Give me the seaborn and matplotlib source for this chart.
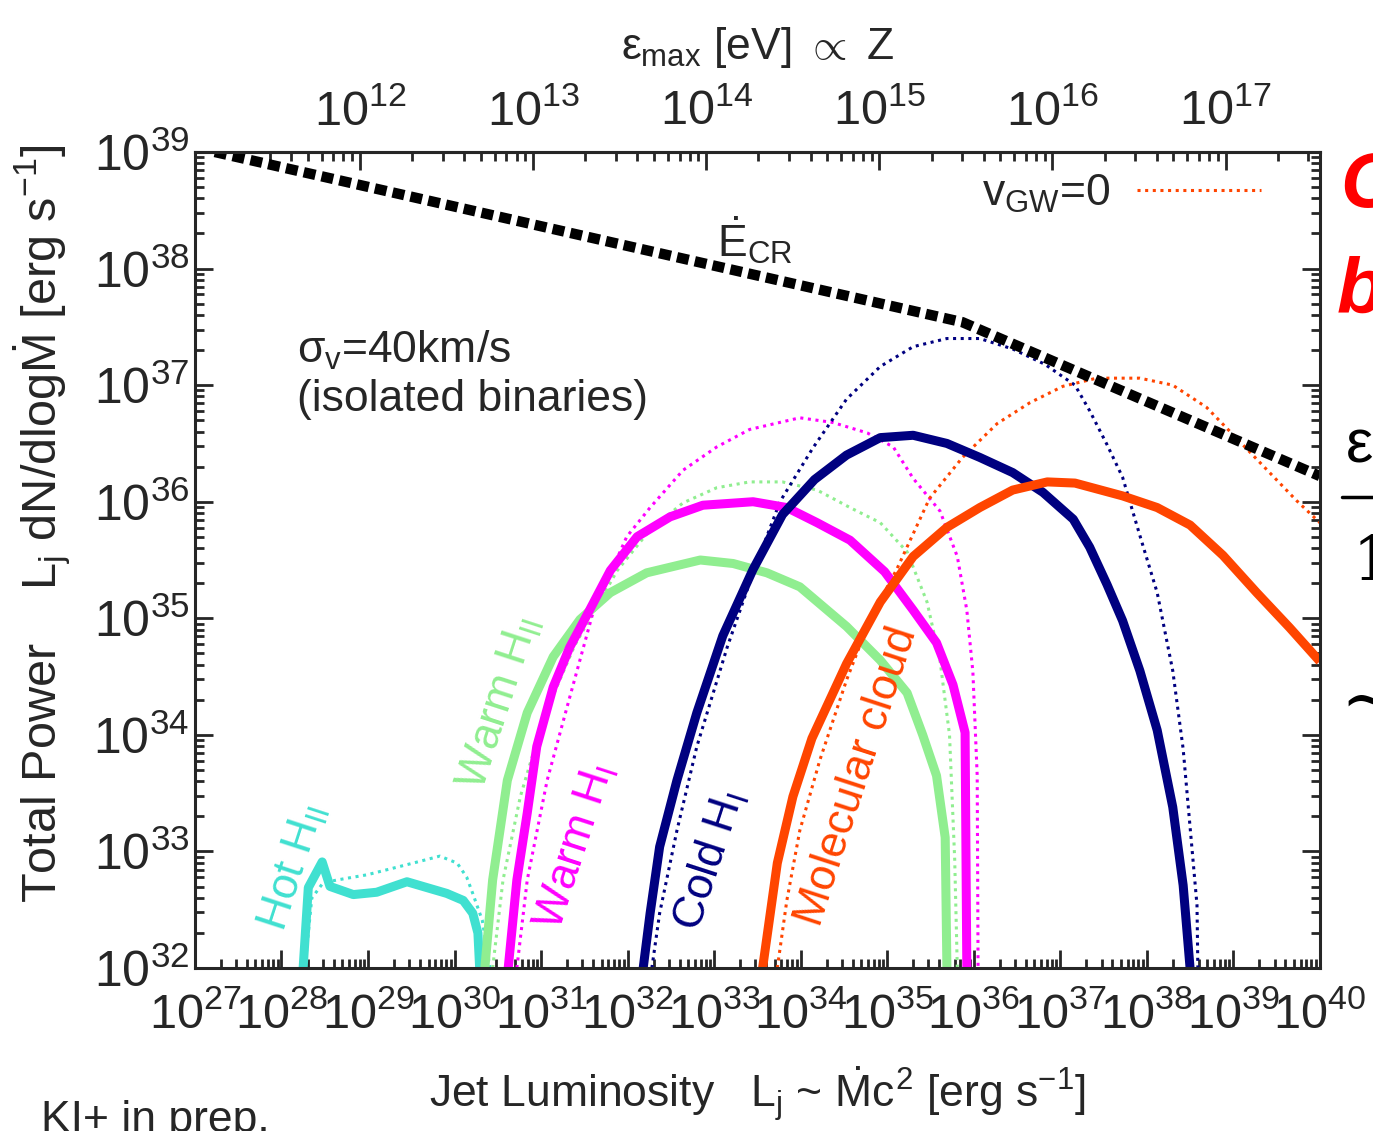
import numpy as np
import pandas as pd
import matplotlib
matplotlib.use("Agg")
import matplotlib.pyplot as plt
from matplotlib.ticker import LogLocator, NullFormatter
import seaborn as sns

# all values are log10 of the quantity
# x = jet luminosity L_j [erg/s], y = total power [erg/s]
hot_hii_x = [28.25, 28.31, 28.47, 28.56, 28.83, 29.10, 29.45, 29.91, 30.10, 30.21, 30.27, 30.29]
hot_hii_y = [32.0, 32.69, 32.91, 32.70, 32.63, 32.65, 32.74, 32.64, 32.58, 32.47, 32.30, 32.0]
hot_hii0_x = [28.27, 28.35, 28.48, 28.64, 28.99, 29.52, 29.83, 30.03, 30.14, 30.21, 30.32, 30.41]
hot_hii0_y = [32.0, 32.6, 32.73, 32.755, 32.80, 32.90, 32.96, 32.90, 32.78, 32.64, 32.41, 32.0]

warm_hii_x = [30.35, 30.44, 30.61, 30.84, 31.14, 31.45, 31.80, 32.22, 32.84, 33.22, 33.61, 33.99,
              34.53, 34.92, 35.23, 35.41, 35.57, 35.67, 35.69]
warm_hii_y = [32.0, 32.755, 33.61, 34.19, 34.67, 34.99, 35.22, 35.39, 35.50, 35.47, 35.39, 35.27,
              34.93, 34.64, 34.36, 34.00, 33.65, 33.12, 32.0]
warm_hii0_x = [30.44, 30.56, 30.76, 31.04, 31.39, 31.88, 32.26, 32.64, 33.03, 33.41, 33.79, 34.19,
               34.57, 34.92, 35.23, 35.46, 35.61, 35.72, 35.78, 35.81]
warm_hii0_y = [32.0, 32.755, 33.47, 34.17, 34.77, 35.41, 35.76, 35.99, 36.12, 36.17, 36.17, 36.10,
               35.95, 35.82, 35.57, 35.14, 34.64, 34.00, 32.93, 32.0]

warm_hi_x = [30.62, 30.72, 30.84, 30.95, 31.14, 31.33, 31.56, 31.80, 32.11, 32.49, 32.87, 33.45,
             33.84, 34.19, 34.57, 34.97, 35.30, 35.57, 35.76, 35.90, 35.92]
warm_hi_y = [32.0, 32.755, 33.33, 33.90, 34.41, 34.75, 35.07, 35.41, 35.70, 35.87, 35.97, 36.00,
             35.95, 35.82, 35.67, 35.40, 35.07, 34.79, 34.43, 34.02, 32.0]
warm_hi0_x = [30.72, 30.84, 31.07, 31.33, 31.60, 31.99, 32.26, 32.64, 33.03, 33.41, 33.99, 34.37,
              34.77, 35.07, 35.30, 35.61, 35.81, 35.92, 35.99, 36.04, 36.05]
warm_hi0_y = [32.0, 32.755, 33.61, 34.32, 35.05, 35.70, 35.95, 36.27, 36.47, 36.62, 36.72, 36.68,
              36.59, 36.47, 36.20, 35.92, 35.53, 35.07, 34.54, 33.65, 32.0]

cold_hi_x = [32.18, 32.26, 32.37, 32.57, 32.80, 33.10, 33.45, 33.79, 34.16, 34.53, 34.92, 35.30,
             35.69, 36.07, 36.45, 36.80, 37.15, 37.34, 37.54, 37.72, 37.92, 38.12, 38.30, 38.42, 38.50]
cold_hi_y = [32.0, 32.47, 33.04, 33.61, 34.19, 34.85, 35.42, 35.89, 36.19, 36.40, 36.55, 36.57,
             36.50, 36.38, 36.25, 36.08, 35.85, 35.61, 35.29, 34.98, 34.55, 34.04, 33.38, 32.71, 32.0]
cold_hi0_x = [32.28, 32.37, 32.57, 32.80, 33.15, 33.45, 33.76, 34.14, 34.53, 34.92, 35.30, 35.69,
              36.07, 36.45, 36.82, 37.17, 37.34, 37.54, 37.72, 37.92, 38.12, 38.30, 38.42, 38.50,
              38.58, 38.59]
cold_hi0_y = [32.0, 32.47, 33.18, 33.90, 34.75, 35.39, 36.00, 36.46, 36.88, 37.16, 37.33, 37.40,
              37.40, 37.31, 37.18, 37.00, 36.78, 36.49, 36.21, 35.71, 35.22, 34.55, 33.88, 33.21,
              32.54, 32.0]

mol_x = [33.56, 33.73, 33.91, 34.13, 34.53, 34.92, 35.30, 35.69, 36.07, 36.45, 36.85, 37.17,
         37.72, 38.12, 38.50, 38.88, 39.27, 39.65, 40.0]
mol_y = [32.0, 32.90, 33.47, 33.97, 34.61, 35.14, 35.53, 35.78, 35.95, 36.10, 36.17, 36.16,
         36.05, 35.95, 35.80, 35.54, 35.22, 34.92, 34.63]
mol0_x = [33.73, 33.84, 33.99, 34.22, 34.53, 34.80, 35.11, 35.49, 35.87, 36.27, 36.65, 37.03,
          37.42, 37.92, 38.30, 38.69, 39.16, 39.73, 40.0]
mol0_y = [32.0, 32.58, 33.18, 33.78, 34.47, 34.99, 35.42, 36.03, 36.38, 36.67, 36.85, 36.99,
          37.06, 37.06, 37.00, 36.81, 36.45, 36.01, 35.82]

ecr_x = [27.23, 35.87, 40.0]
ecr_y = [39.0, 37.54, 36.22]

# (name, solid x, solid y, v_GW=0 x, v_GW=0 y, colour)
phases = [
    ("Hot HII", hot_hii_x, hot_hii_y, hot_hii0_x, hot_hii0_y, "#40E0D0"),
    ("Warm HII", warm_hii_x, warm_hii_y, warm_hii0_x, warm_hii0_y, "#90EE90"),
    ("Warm HI", warm_hi_x, warm_hi_y, warm_hi0_x, warm_hi0_y, "#FF00FF"),
    ("Cold HI", cold_hi_x, cold_hi_y, cold_hi0_x, cold_hi0_y, "#000080"),
    ("Molecular cloud", mol_x, mol_y, mol0_x, mol0_y, "#FF4500"),
]

sns.set_style("ticks")
plt.rcParams["font.family"] = ["Liberation Sans", "DejaVu Sans"]
plt.rcParams["mathtext.fontset"] = "custom"
plt.rcParams["mathtext.rm"] = "Liberation Sans"
plt.rcParams["mathtext.it"] = "Liberation Sans"
plt.rcParams["mathtext.bf"] = "Liberation Sans:bold"
plt.rcParams["axes.linewidth"] = 2.2

fig = plt.figure(figsize=(13.73, 11.31), dpi=100)
ax = fig.add_axes([0.142, 0.1441, 0.8193, 0.7215])

def curve(xs, ys):
    return pd.DataFrame({"L": 10.0 ** np.array(xs), "P": 10.0 ** np.array(ys)})

dotted = (0, (1, 1.5))
legend_handle = None
for name, sx, sy, dx, dy, col in phases:
    sns.lineplot(data=curve(dx, dy), x="L", y="P", ax=ax, color=col, linewidth=2.2,
                 sort=False, estimator=None)
    ax.lines[-1].set_linestyle(dotted)
    if name == "Molecular cloud":
        legend_handle = ax.lines[-1]
for name, sx, sy, dx, dy, col in phases:
    sns.lineplot(data=curve(sx, sy), x="L", y="P", ax=ax, color=col, linewidth=6.5,
                 sort=False, estimator=None)
    ax.lines[-1].set_solid_capstyle("butt")
    ax.lines[-1].set_solid_joinstyle("round")

sns.lineplot(data=curve(ecr_x, ecr_y), x="L", y="P", ax=ax, color="black", linewidth=7.5,
             sort=False, estimator=None)
ax.lines[-1].set_linestyle((0, (1.15, 0.6)))

ax.set_xscale("log")
ax.set_yscale("log")
ax.set_xlim(1e27, 1e40)
ax.set_ylim(1e32, 1e39)

ax.xaxis.set_major_locator(LogLocator(base=10, numticks=30))
ax.xaxis.set_minor_locator(LogLocator(base=10, subs=np.arange(2, 10), numticks=300))
ax.xaxis.set_minor_formatter(NullFormatter())
ax.yaxis.set_major_locator(LogLocator(base=10, numticks=30))
ax.yaxis.set_minor_locator(LogLocator(base=10, subs=np.arange(2, 10), numticks=300))
ax.yaxis.set_minor_formatter(NullFormatter())

ax.tick_params(axis="both", which="both", direction="in", width=2.0, top=False, right=True)
ax.tick_params(axis="both", which="major", length=13, labelsize=35)
ax.tick_params(axis="y", which="major", labelsize=36)
ax.tick_params(axis="both", which="minor", length=6.5)
ax.tick_params(axis="x", which="major", pad=17)
ax.tick_params(axis="y", which="major", pad=4)

# top axis: maximum energy, eps ~ L^(1/2)
def to_eps(L):
    L = np.clip(L, 1e-300, None)
    return 10.0 ** (16.0 + 0.5 * (np.log10(L) - 36.91))

def to_L(e):
    e = np.clip(e, 1e-300, None)
    return 10.0 ** (36.91 + 2.0 * (np.log10(e) - 16.0))

secax = ax.secondary_xaxis("top", functions=(to_eps, to_L))
secax.xaxis.set_major_locator(LogLocator(base=10, numticks=30))
secax.xaxis.set_minor_locator(LogLocator(base=10, subs=np.arange(2, 10), numticks=300))
secax.xaxis.set_minor_formatter(NullFormatter())
secax.tick_params(axis="x", which="both", direction="in", width=2.0)
secax.tick_params(axis="x", which="major", length=13, labelsize=35, pad=12)
secax.tick_params(axis="x", which="minor", length=6.5)
secax.set_xlabel(r"$\varepsilon_{\rm max}$ [eV] $\propto$ Z", fontsize=32, labelpad=22)

ax.set_xlabel(r"Jet Luminosity   $L_{\rm j}$ ~ $\dot{M}c^2$ [erg s$^{-1}$]", fontsize=32)
ax.xaxis.set_label_coords(0.5, -0.118)
ax.set_ylabel(r"Total Power    $L_{\rm j}$ dN/dlog$\dot{M}$ [erg s$^{-1}$]", fontsize=35)
ax.yaxis.set_label_coords(-0.108, 0.545)

ax.legend(handles=[legend_handle], labels=[r"v$_{\rm GW}$=0"], loc="upper right",
          bbox_to_anchor=(0.948, 0.975), markerfirst=False, frameon=False, fontsize=32,
          handlelength=2.8, handletextpad=0.6, borderpad=0, borderaxespad=0)

ax.text(0.498, 0.892, r"$\dot{E}_{\rm CR}$", transform=ax.transAxes, fontsize=32,
        ha="center", va="center")
ax.text(0.0907, 0.757, r"$\sigma_{\rm v}$=40km/s", transform=ax.transAxes, fontsize=32,
        ha="left", va="center")
ax.text(0.0907, 0.697, "(isolated binaries)", transform=ax.transAxes, fontsize=32,
        ha="left", va="center")

labels = [
    (r"Hot H$_{\rm II}$", 0.087, 0.123, "#40E0D0"),
    (r"Warm H$_{\rm II}$", 0.271, 0.325, "#90EE90"),
    (r"Warm H$_{\rm I}$", 0.338, 0.148, "#FF00FF"),
    (r"Cold H$_{\rm I}$", 0.458, 0.132, "#000080"),
    ("Molecular cloud", 0.589, 0.235, "#FF4500"),
]
for txt, lx, ly, col in labels:
    ax.text(lx, ly, txt, transform=ax.transAxes, fontsize=32, color=col,
            rotation=72, ha="center", va="center", rotation_mode="anchor")

# bits of neighbouring slide content, cut off by the edges
fig.text(0.03, 1 - 1100 / 1131, "KI+ in prep.", fontsize=32, ha="left", va="top")
fig.text(1340 / 1373, 1 - 187 / 1131, "C", fontsize=56, color="red", fontweight="bold",
         fontstyle="italic", ha="left", va="center")
fig.text(1337 / 1373, 1 - 292 / 1131, "b", fontsize=56, color="red", fontweight="bold",
         fontstyle="italic", ha="left", va="center")
fig.text(1345 / 1373, 1 - 445 / 1131, r"$\varepsilon$", fontsize=44, color="black",
         ha="left", va="center", family="DejaVu Serif")
fig.add_artist(plt.Line2D([1342 / 1373, 1.0], [1 - 497 / 1131] * 2, color="black", lw=2.5))
fig.text(1352 / 1373, 1 - 562 / 1131, "1", fontsize=44, color="black", ha="left",
         va="center", family="DejaVu Serif")
fig.text(1340 / 1373, 1 - 702 / 1131, "~", fontsize=52, color="black", ha="left",
         va="center", family="DejaVu Serif")

fig.savefig("out.png", dpi=100)
